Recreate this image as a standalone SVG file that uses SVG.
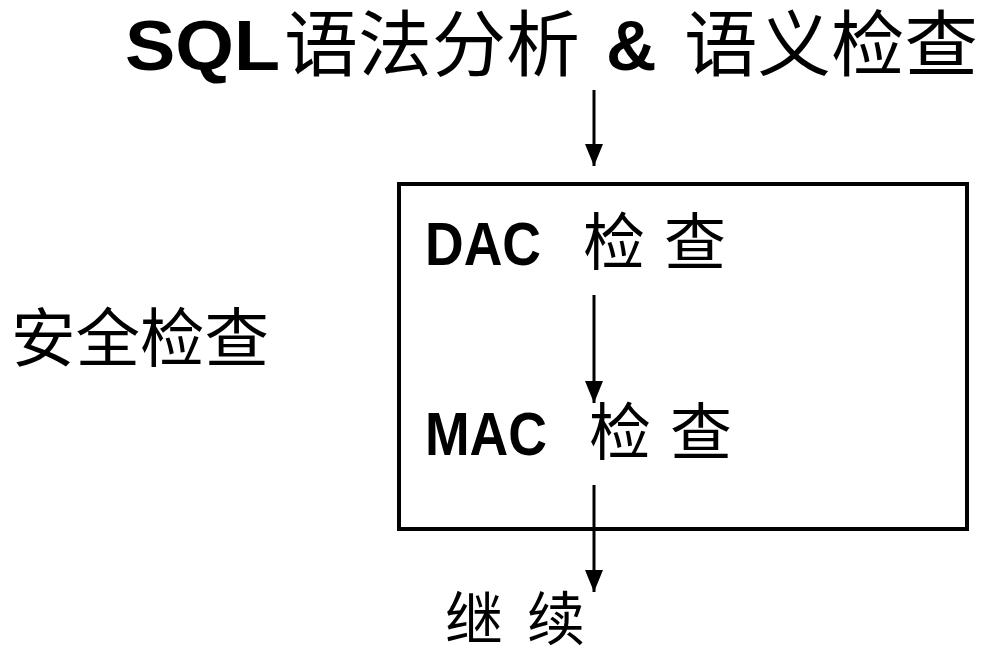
<svg xmlns="http://www.w3.org/2000/svg" width="986" height="652" viewBox="0 0 986 652">
<defs>
<style>
.lat{font-family:"Liberation Sans","Noto Sans CJK SC",sans-serif;font-weight:bold;fill:#000}
.cjk{font-family:"Liberation Sans","Noto Sans CJK SC",sans-serif;font-weight:normal;fill:#000}
.edge{stroke:#000;stroke-width:3;fill:none}
</style>
<marker id="arr" markerWidth="22" markerHeight="18" refX="22" refY="9" orient="auto" markerUnits="userSpaceOnUse" viewBox="0 0 22 18">
<path d="M0,0 L22,9 L0,18 z" fill="#000"/>
</marker>
</defs>
<rect width="986" height="652" fill="#fff"/>
<g id="title">
<text class="lat" x="125" y="70" font-size="70" textLength="155" lengthAdjust="spacingAndGlyphs">SQL</text>
<text class="cjk" x="284" y="70" font-size="72" textLength="296" lengthAdjust="spacingAndGlyphs">语法分析</text>
<text class="lat" x="606" y="70" font-size="70">&amp;</text>
<text class="cjk" x="684" y="70" font-size="72" textLength="294" lengthAdjust="spacingAndGlyphs">语义检查</text>
</g>
<g id="security-box">
<rect x="399" y="184" width="568" height="345" fill="none" stroke="#000" stroke-width="4"/>
</g>
<g id="dac">
<text class="lat" x="425" y="265" font-size="62" textLength="116" lengthAdjust="spacingAndGlyphs">DAC</text>
<text class="cjk" x="583" y="265" font-size="62">检</text>
<text class="cjk" x="664" y="265" font-size="62">查</text>
</g>
<g id="mac">
<text class="lat" x="425" y="455" font-size="62" textLength="122" lengthAdjust="spacingAndGlyphs">MAC</text>
<text class="cjk" x="589" y="455" font-size="62">检</text>
<text class="cjk" x="670" y="455" font-size="62">查</text>
</g>
<g id="security-label">
<text class="cjk" x="11" y="361" font-size="64" textLength="258" lengthAdjust="spacingAndGlyphs">安全检查</text>
</g>
<g id="continue">
<text class="cjk" x="445" y="640" font-size="58">继</text>
<text class="cjk" x="527" y="640" font-size="58">续</text>
</g>
<g id="connectors">
<line class="edge" x1="594" y1="90" x2="594" y2="166" marker-end="url(#arr)"/>
<line class="edge" x1="594" y1="295" x2="594" y2="403" marker-end="url(#arr)"/>
<line class="edge" x1="594" y1="485" x2="594" y2="592" marker-end="url(#arr)"/>
</g>
</svg>
